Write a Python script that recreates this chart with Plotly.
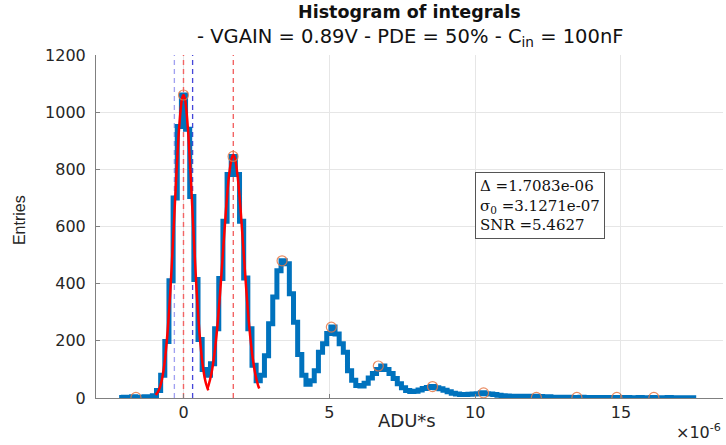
import numpy as np
import plotly.graph_objects as go

# ---- data (units of 1e-6 ADU*s) ----
bin_width = 0.14236
first_edge = -2.2066
counts = [2, 3, 2, 4, 3, 2, 4, 3,
          8, 26, 80, 198, 410, 700, 950, 1060, 940, 705, 415, 205, 100, 80, 120,
          242, 418, 618, 782, 845, 782, 618, 420, 242, 115, 60, 80, 148, 260, 353,
          445, 480, 470, 365, 265, 152, 80, 48, 60, 95, 160, 190, 226, 248, 224,
          190, 160, 95, 62, 44, 42, 52, 70, 86, 100, 112, 100, 86, 68, 50, 36,
          26, 23, 24, 28, 33, 37, 40, 36, 32, 27, 22, 17, 14, 12, 12, 13, 14,
          15, 18, 15, 14, 12, 10, 8, 7, 6, 6, 5, 6, 6, 6, 6, 5, 4, 4, 3, 3,
          3, 2, 3, 2, 2, 3, 2, 2, 2, 1, 2, 2, 1, 2, 1, 2, 2, 1, 1, 2,
          1, 1, 2, 1, 1, 1, 2, 1, 1, 1, 1, 1, 1]

peak_x = [-1.63, 0.0, 1.70, 3.38, 5.07, 6.68, 8.54, 10.29, 12.1, 13.49, 14.86, 16.13]
peak_y = [2, 1060, 845, 480, 248, 112, 40, 18, 2, 2, 2, 2]

fit0_x = [-0.95, -0.85, -0.75, -0.65, -0.55, -0.45, -0.35, -0.25, -0.15, -0.05, 0.0,
          0.05, 0.15, 0.25, 0.35, 0.45, 0.55, 0.65, 0.75, 0.85]
fit0_y = [10.5, 26.4, 59.8, 122, 226, 376, 567, 770, 945, 1047, 1060,
          1047, 945, 770, 567, 376, 226, 122, 59.8, 26.4]
fit1_x = [0.818, 0.858, 0.958, 1.058, 1.158, 1.258, 1.358, 1.458, 1.558, 1.658, 1.708,
          1.758, 1.858, 1.958, 2.058, 2.158, 2.258, 2.358, 2.458, 2.558, 2.598]
fit1_y = [33.5, 44.5, 86, 152, 247, 372, 516, 659, 775, 841, 850,
          841, 775, 659, 516, 372, 247, 152, 86, 44.5, 33.5]

mean_lines = [0.0, 1.7083]
sigma_lines = [-0.3127, 0.3127]
sigma_colors = ["rgba(120,120,235,0.7)", "rgba(60,60,215,0.95)"]

x_ticks = [0, 5, 10, 15]
y_ticks = [0, 200, 400, 600, 800, 1000, 1200]

edges = first_edge + bin_width * np.arange(len(counts) + 1)
stairs_y = list(counts) + [counts[-1]]

fig = go.Figure()

for xv in mean_lines:
    fig.add_trace(go.Scatter(x=[xv, xv], y=[0, 1200], mode="lines",
                             line=dict(color="#F26464", width=1.4, dash="5px,4px"),
                             showlegend=False, hoverinfo="skip"))
for xv, c in zip(sigma_lines, sigma_colors):
    fig.add_trace(go.Scatter(x=[xv, xv], y=[0, 1200], mode="lines",
                             line=dict(color=c, width=1.3, dash="5px,4px"),
                             showlegend=False, hoverinfo="skip"))

fig.add_trace(go.Scatter(x=edges, y=stairs_y, mode="lines", line_shape="hv",
                         line=dict(color="#0072BD", width=5), showlegend=False))

for fx, fy in [(fit0_x, fit0_y), (fit1_x, fit1_y)]:
    fig.add_trace(go.Scatter(x=fx, y=fy, mode="lines",
                             line=dict(color="#FF0000", width=2.5, shape="spline", smoothing=0.8),
                             showlegend=False))

fig.add_trace(go.Scatter(x=peak_x, y=peak_y, mode="markers",
                         marker=dict(symbol="circle-open", size=10,
                                     color="rgba(230,120,70,0.85)", line=dict(width=1.2)),
                         showlegend=False))

sans = "DejaVu Sans, Verdana, sans-serif"
narrow = "Liberation Sans, Arial, sans-serif"

fig.update_layout(
    width=726, height=445,
    margin=dict(l=96, r=3, t=55, b=47),
    paper_bgcolor="white", plot_bgcolor="white",
    font=dict(family=sans, size=16, color="#262626"),
    xaxis=dict(range=[-3, 18.5], tickvals=x_ticks, ticktext=[str(t) for t in x_ticks],
               showgrid=True, gridcolor="#e6e6e6", gridwidth=1,
               zeroline=False, showline=True, linecolor="#808080", linewidth=1,
               ticks="inside", ticklen=4, tickcolor="#808080",
               tickfont=dict(family=sans, size=16, color="#262626")),
    yaxis=dict(range=[0, 1200], tickvals=y_ticks,
               showgrid=True, gridcolor="#e6e6e6", gridwidth=1,
               zeroline=False, showline=True, linecolor="#808080", linewidth=1,
               ticks="inside", ticklen=4, tickcolor="#808080", ticklabelstandoff=6,
               tickfont=dict(family=sans, size=16, color="#262626")),
    annotations=[
        dict(text="<b>Histogram of integrals</b>", xref="paper", yref="paper",
             x=0.5, y=1.124, xanchor="center", yanchor="middle", showarrow=False,
             font=dict(family=sans, size=17.5, color="#111")),
        dict(text="- VGAIN = 0.89V - PDE = 50% - C<sub>in</sub> = 100nF", xref="paper", yref="paper",
             x=0.5, y=1.05, xanchor="center", yanchor="middle", showarrow=False,
             font=dict(family=sans, size=19.5, color="#111")),
        dict(text="ADU*s", xref="paper", yref="paper", x=0.496, y=-0.067,
             xanchor="center", yanchor="middle", showarrow=False,
             font=dict(family=sans, size=18, color="#262626")),
        dict(text="Entries", xref="paper", yref="paper", x=-0.121, y=0.519,
             xanchor="center", yanchor="middle", showarrow=False, textangle=-90,
             font=dict(family=narrow, size=16, color="#262626")),
        dict(text="Δ =1.7083e-06<br>σ<sub>0</sub> =3.1271e-07<br>SNR =5.4627",
             xref="x", yref="y", x=10.0, y=790, xanchor="left", yanchor="top",
             showarrow=False, align="left",
             font=dict(family="DejaVu Serif, Liberation Serif, serif", size=15, color="#111"),
             bordercolor="#555", borderwidth=1, borderpad=4, bgcolor="white"),
        dict(text="×10<sup>-6</sup>", xref="paper", yref="paper", x=1.0, y=-0.098,
             xanchor="right", yanchor="middle", showarrow=False,
             font=dict(family=sans, size=16, color="#262626")),
    ],
)

fig.write_html("out.html")
